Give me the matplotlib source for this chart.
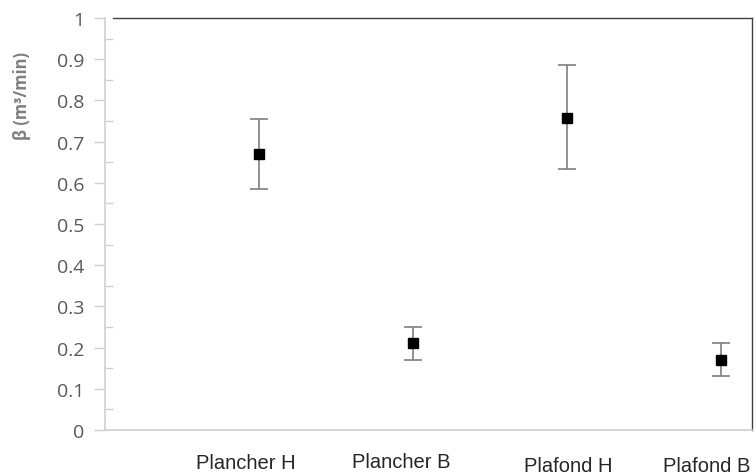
import matplotlib
matplotlib.use("Agg")
import matplotlib.pyplot as plt
import matplotlib.transforms as mtransforms
from matplotlib.ticker import MultipleLocator

categories = ["Plancher H", "Plancher B", "Plafond H", "Plafond B"]
x_pos = [1, 2, 3, 4]
beta = [0.67, 0.21, 0.758, 0.17]
err_low = [0.085, 0.04, 0.125, 0.04]
err_high = [0.085, 0.04, 0.129, 0.04]
y_ticks = [i / 10 for i in range(11)]
y_tick_labels = ["0", "0.1", "0.2", "0.3", "0.4", "0.5", "0.6", "0.7", "0.8", "0.9", "1"]

W, H = 756, 477
fig = plt.figure(figsize=(W / 100, H / 100), dpi=100)
ax = fig.add_axes([105 / W, 1 - 431 / H, (752 - 105) / W, (431 - 19) / H])

ax.errorbar(x_pos, beta, yerr=[err_low, err_high], fmt='s', color='black',
            markersize=7, ecolor='#7f7f7f', elinewidth=1.2, capsize=6.5, capthick=1.2)

ax.set_xlim(0, 4.2)
ax.set_ylim(0, 1)
ax.set_yticks(y_ticks)
ax.set_yticklabels(y_tick_labels)
ax.yaxis.set_minor_locator(MultipleLocator(0.05))
ax.set_xticks([])

for s in ['left', 'bottom']:
    ax.spines[s].set_color('#d0d0d0')
    ax.spines[s].set_linewidth(1.2)
for s in ['top', 'right']:
    ax.spines[s].set_color('#404040')
    ax.spines[s].set_linewidth(1.0)
ax.spines['top'].set_bounds(0.05, 4.2)

ax.tick_params(axis='y', which='major', direction='out', length=8, width=1,
               color='#d0d0d0', labelcolor='#595959', labelsize=14, pad=7)
ax.tick_params(axis='y', which='minor', direction='in', length=6, width=1,
               color='#d0d0d0')
for t in ax.get_yticklabels():
    t.set_fontfamily('Open Sans')

fig.text(22 / W, 1 - 96 / H, "β (m³/min)", rotation=90, ha='center', va='center',
         fontsize=12, color='#7f7f7f', fontweight='bold', fontfamily='Open Sans')

# category labels (x in data coords, baseline in figure pixels)
label_x = [0.915, 1.92, 3.006, 3.905]
label_base = [469, 468, 472, 472]
trans = mtransforms.blended_transform_factory(ax.transData, fig.transFigure)
for lx, lab, yb in zip(label_x, categories, label_base):
    fig.text(lx, 1 - yb / H, lab, transform=trans, ha='center', va='baseline',
             fontsize=14.5, color='#262626', fontfamily='Liberation Sans')

fig.savefig("out.png", dpi=100)
